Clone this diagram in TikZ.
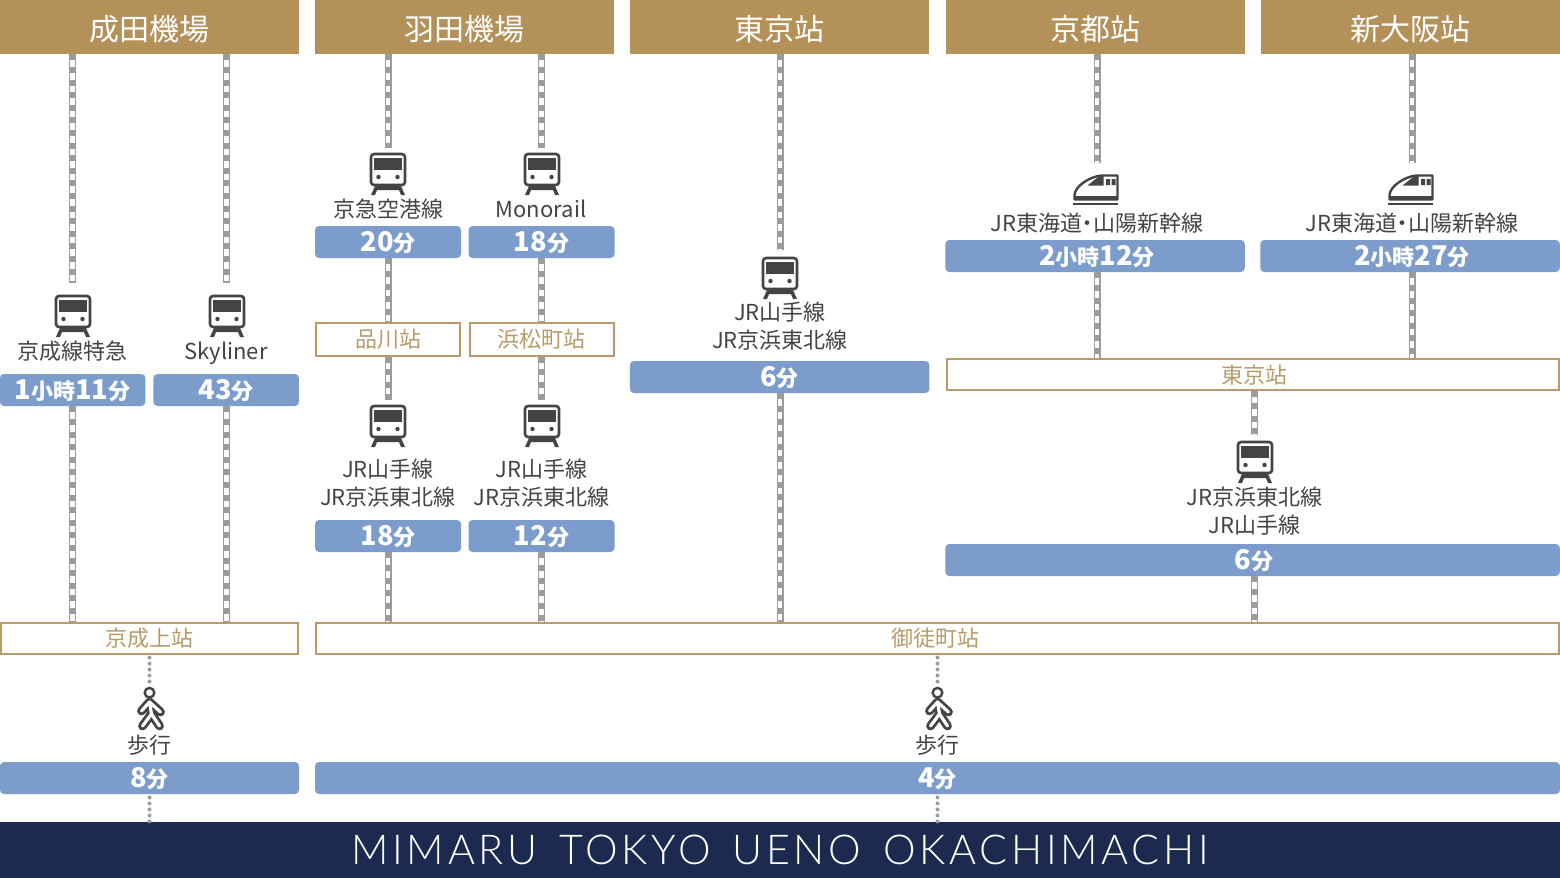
\documentclass[tikz,border=0pt]{standalone}
\usepackage{fontspec}
\setmainfont{Noto Sans CJK JP}
\newfontfamily\titlefont[LetterSpace=9,WordSpace=1.47]{Lato Light}
\usetikzlibrary{positioning}
\definecolor{headgold}{HTML}{B39159}
\definecolor{stationgold}{HTML}{B89B69}
\definecolor{timeblue}{HTML}{7C9DCB}
\definecolor{barnavy}{HTML}{1B2A4E}
\definecolor{icongray}{HTML}{444444}
\definecolor{railgray}{HTML}{9C9C9C}
\newcommand{\kj}[1]{{\fontsize{11}{11}\selectfont #1}}
\tikzset{
    header/.style={fill=headgold, text=white, inner sep=0pt, minimum width=149.5pt, minimum height=27pt, text height=15.5pt, text depth=2pt, font=\fontsize{15}{15}\selectfont},
    timetext/.style={text=white, inner sep=0pt, text height=11pt, text depth=1.3pt, font=\fontsize{13.6}{14}\selectfont\bfseries},
    timebox/.style={timetext, fill=timeblue, rounded corners=2pt, minimum width=#1*0.5pt, minimum height=16pt},
    stationtext/.style={text=stationgold, inner sep=0pt, font=\fontsize{11}{11}\selectfont},
    stationbox/.style={stationtext, draw=stationgold, line width=1pt, fill=white, minimum width=#1*0.5pt-1pt, minimum height=15.5pt},
    linename/.style={text=icongray, inner sep=0pt, align=center, font=\fontsize{11}{14}\selectfont},
    rail/.style={draw=railgray, line width=3.5pt, postaction={draw=white, line width=2.3pt}, postaction={draw=railgray, line width=2.3pt, dash pattern=on 3pt off 3.3pt}},
    walkdots/.style={draw=railgray, line width=2pt, line cap=round, dash pattern=on 0pt off 3pt, shorten <=1.5pt},
    trainmark/.pic={
        \draw[icongray, line width=1.3pt, rounded corners=1.5pt] (-17,-20) rectangle (17,11);
        \fill[icongray] (-14,-16) rectangle (14,-4);
        \fill[icongray] (-9.5,3) circle (1.1pt) (9.5,3) circle (1.1pt);
        \fill[icongray] (-17,21) -- (-13,12) -- (13,12) -- (17,21) -- (13,21) -- (11,16) -- (-11,16) -- (-13,21) -- cycle;
        \coordinate (-top) at (0,-21);
    },
    bulletmark/.pic={
        \draw[icongray, line width=1.2pt, line join=round] (22,-14) -- (6,-14) .. controls (-6,-13) and (-21,-3) .. (-21,6) -- (-21,10) -- (22,10) -- cycle;
        \fill[icongray] (22,10) -- (-21,10) -- (-21,6.5) -- (22,6.5) -- cycle;
        \fill[icongray] (-8,-4) -- (2,-12) -- (8,-14) -- (8,-4) -- cycle;
        \fill[icongray] (10.5,-10.5) rectangle (14.5,-4.5) (16,-10.5) rectangle (20,-4.5);
        \fill[icongray] (-22.5,13) rectangle (22.5,15.5);
        \coordinate (-top) at (0,-15);
    },
    walkmark/.pic={
        \draw[icongray, line width=1.2pt] (-1,-16.3) circle (2.4pt);
        \draw[icongray, line width=4.4pt, line cap=round, line join=round] (-9,2) -- (-1,-7) -- (10,3) (-1,-7) -- (1,5) -- (-8,17) (1,5) -- (9,17);
        \draw[white, line width=1.6pt, line cap=round, line join=round] (-9,2) -- (-1,-7) -- (10,3) (-1,-7) -- (1,5) -- (-8,17) (1,5) -- (9,17);
        \coordinate (-top) at (0,-22);
    }
}

\begin{document}
\begin{tikzpicture}[x=0.5pt, y=-0.5pt]
    \useasboundingbox (0,0) rectangle (1560,878);
    \node[fill=white, minimum width=780pt, minimum height=439pt, inner sep=0pt] (paper) at (780,439) {};

    \node[header] (hNarita) at (149.5,27) {成田機場};
    \node[header] (hHaneda) at (464.5,27) {羽田機場};
    \node[header] (hTokyo) at (779.5,27) {東京站};
    \node[header] (hKyoto) at (1095,27) {京都站};
    \node[header] (hOsaka) at (1410,27) {新大阪站};
    \node[fill=barnavy, text=white, inner sep=0pt, minimum width=780pt, minimum height=28pt, font=\fontsize{20.6}{21}\selectfont\titlefont] (hotel) at (780,850) {MIMARU TOKYO UENO OKACHIMACHI};

    % stations
    \node[stationbox=299] (sKeisei) at (149.5,638) {京成上站};
    \node[stationbox=1245] (sOkachi) at (937,638) {};
    \node[stationtext] (sOkachiName) at (935,638) {御徒町站};
    \node[stationbox=146, minimum height=16.5pt] (sShina) at (388,339) {品川站};
    \node[stationbox=146, minimum height=16.5pt] (sHama) at (541.5,339) {浜松町站};
    \node[stationbox=614] (sTokyo) at (1252.5,374) {};
    \node[stationtext] (sTokyoName) at (1254,375) {東京站};

    % time boxes
    \node[timebox=145.5] (bKeisei) at (72.7,390) {1\kj{小時}11\kj{分}};
    \node[timebox=145.5] (bSky) at (226.2,390) {43\kj{分}};
    \node[timebox=146] (bKeikyu) at (388,242) {20\kj{分}};
    \node[timebox=146] (bMono) at (541.5,242) {18\kj{分}};
    \node[timebox=146] (bShina) at (388,536) {18\kj{分}};
    \node[timebox=146] (bHama) at (541.5,536) {12\kj{分}};
    \node[timebox=299.5] (bTokyo) at (779.7,377) {6\kj{分}};
    \node[timebox=299.5] (bKyoto) at (1095,256) {};
    \node[timetext] (bKyotoTime) at (1097,256) {2\kj{小時}12\kj{分}};
    \node[timebox=299.5] (bOsaka) at (1410,256) {};
    \node[timetext] (bOsakaTime) at (1412,256) {2\kj{小時}27\kj{分}};
    \node[timebox=614.5] (bTransfer) at (1252.5,560) {};
    \node[timetext] (bTransferTime) at (1254,560) {6\kj{分}};
    \node[timebox=299] (bWalkA) at (149.5,778) {8\kj{分}};
    \node[timebox=1245] (bWalkB) at (937.5,778) {4\kj{分}};

    % line names
    \node[linename] (nKeisei) at (72.8,351) {京成線特急};
    \node[linename] (nSky) at (226,353.5) {Skyliner};
    \node[linename] (nKeikyu) at (388,209) {京急空港線};
    \node[linename] (nMono) at (541,209) {Monorail};
    \node[linename] (nShina) at (388,483) {JR山手線\\JR京浜東北線};
    \node[linename] (nHama) at (541.5,483) {JR山手線\\JR京浜東北線};
    \node[linename] (nTokyo) at (780,326) {JR山手線\\JR京浜東北線};
    \node[linename] (nKyoto) at (1097,223) {JR東海道\kern-.25em・\kern-.25em山陽新幹線};
    \node[linename] (nOsaka) at (1412,223) {JR東海道\kern-.25em・\kern-.25em山陽新幹線};
    \node[linename] (nTransfer) at (1254.5,511) {JR京浜東北線\\JR山手線};
    \node[linename] (nWalkA) at (149.5,745) {歩行};
    \node[linename] (nWalkB) at (937.5,745) {歩行};

    % icons
    \pic (tKeisei) at (73,316) {trainmark};
    \pic (tSky) at (227,316) {trainmark};
    \pic (tKeikyu) at (388,174) {trainmark};
    \pic (tMono) at (542,174) {trainmark};
    \pic (tShina) at (388,426) {trainmark};
    \pic (tHama) at (542,426) {trainmark};
    \pic (tTokyo) at (780,278) {trainmark};
    \pic (tKyoto) at (1095.5,189.5) {bulletmark};
    \pic (tOsaka) at (1410.5,189.5) {bulletmark};
    \pic (tTransfer) at (1255,462) {trainmark};
    \pic (wA) at (150.5,709) {walkmark};
    \pic (wB) at (938.5,709) {walkmark};

    % rails
    \draw [rail, shorten >=6pt] (hNarita.south -| bKeisei) -- (bKeisei |- tKeisei-top);
    \draw [rail] (bKeisei.south) -- (sKeisei.north -| bKeisei);
    \draw [rail, shorten >=6pt] (hNarita.south -| bSky) -- (bSky |- tSky-top);
    \draw [rail] (bSky.south) -- (sKeisei.north -| bSky);
    \draw [rail, shorten >=2.5pt] (hHaneda.south -| bKeikyu) -- (bKeikyu.north |- tKeikyu-top);
    \draw [rail] (bKeikyu.south) -- (sShina.north);
    \draw [rail, shorten >=2.5pt] (sShina.south) -- (sShina.south |- tShina-top);
    \draw [rail] (bShina.south) -- (sOkachi.north -| bShina);
    \draw [rail, shorten >=2.5pt] (hHaneda.south -| bMono) -- (bMono.north |- tMono-top);
    \draw [rail] (bMono.south) -- (sHama.north);
    \draw [rail, shorten >=2.5pt] (sHama.south) -- (sHama.south |- tHama-top);
    \draw [rail] (bHama.south) -- (sOkachi.north -| bHama);
    \draw [rail, shorten >=3.5pt] (hTokyo.south -| tTokyo-top) -- (tTokyo-top);
    \draw [rail] (bTokyo.south -| tTokyo-top) -- (sOkachi.north -| tTokyo-top);
    \draw [rail, shorten >=6pt] (hKyoto.south -| bKyotoTime) -- (bKyotoTime.north |- tKyoto-top);
    \draw [rail] (bKyoto.south -| bKyotoTime) -- (sTokyo.north -| bKyotoTime);
    \draw [rail, shorten >=6pt] (hOsaka.south -| nOsaka) -- (nOsaka.north |- tOsaka-top);
    \draw [rail] (bOsaka.south -| nOsaka) -- (sTokyo.north -| nOsaka);
    \draw [rail, shorten >=3pt] (sTokyo.south -| nTransfer) -- (nTransfer.north |- tTransfer-top);
    \draw [rail] (bTransfer.south -| nTransfer) -- (sOkachi.north -| nTransfer);

    % walking
    \draw [walkdots, shorten >=2.5pt] (sKeisei.south) -- (sKeisei.south |- wA-top);
    \draw [walkdots] (bWalkA.south) -- (hotel.north -| bWalkA);
    \draw [walkdots, shorten >=2.5pt] (sOkachi.south -| bWalkB) -- (bWalkB.north |- wB-top);
    \draw [walkdots] (bWalkB.south) -- (hotel.north -| bWalkB);
\end{tikzpicture}
\end{document}
